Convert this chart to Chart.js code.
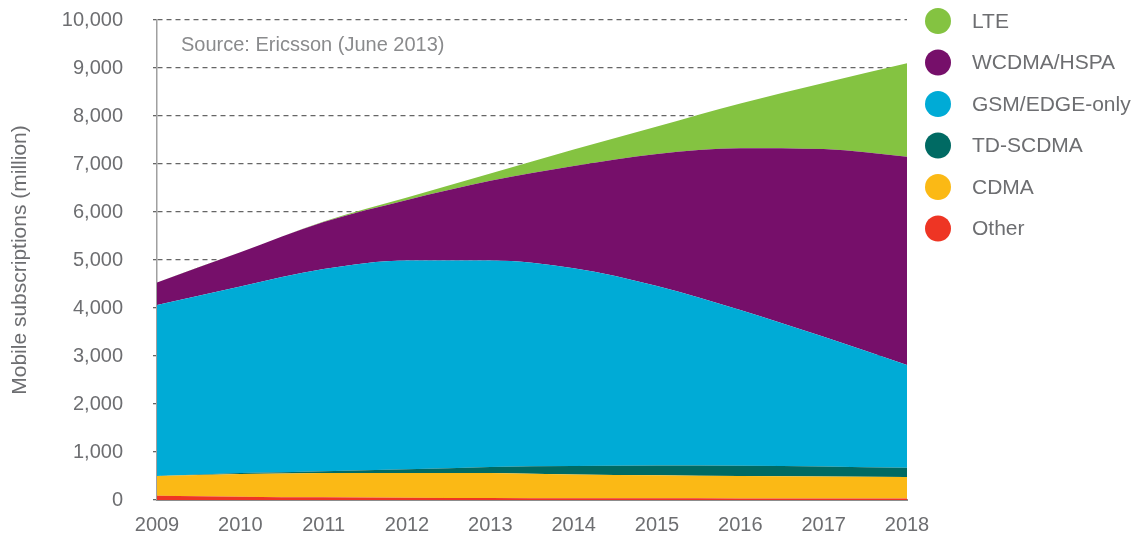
<!DOCTYPE html>
<html><head><meta charset="utf-8">
<script src="https://cdn.jsdelivr.net/npm/chart.js@4/dist/chart.umd.min.js"></script>
<style>html,body{margin:0;padding:0;background:#fff}#wrap{width:1147px;height:538px;position:relative}</style>
</head><body><div id="wrap"><canvas id="c" width="1147" height="538"></canvas></div>
<script>
const years = ['2009','2010','2011','2012','2013','2014','2015','2016','2017','2018'];
const other   = [90, 70, 55, 45, 40, 35, 35, 30, 30, 30];
const cdma    = [410, 470, 505, 520, 520, 495, 480, 470, 460, 450];
const tdscdma = [0, 20, 40, 75, 130, 180, 205, 215, 210, 190];
const gsm     = [3560, 3890, 4210, 4350, 4300, 4120, 3740, 3245, 2700, 2140];
const wcdma   = [470, 710, 980, 1260, 1660, 2130, 2750, 3370, 3910, 4340];
const lte     = [0, 0, 10, 50, 150, 340, 570, 930, 1380, 1950];
const yTicks  = [0,1000,2000,3000,4000,5000,6000,7000,8000,9000,10000];

const series = [
  {label:'Other', data:other, color:'#ee3524'},
  {label:'CDMA', data:cdma, color:'#fbb915'},
  {label:'TD-SCDMA', data:tdscdma, color:'#006a63'},
  {label:'GSM/EDGE-only', data:gsm, color:'#00abd6'},
  {label:'WCDMA/HSPA', data:wcdma, color:'#760f6a'},
  {label:'LTE', data:lte, color:'#84c341'}
];
const FONT = "'Liberation Sans', Arial, sans-serif";
const GRAY = '#6d6e71';

const legendPlugin = {
  id:'customLegend',
  afterDraw(chart){
    const ctx = chart.ctx;
    const ds = chart.data.datasets.slice().reverse();
    ctx.save();
    ds.forEach((d,i)=>{
      const cy = 21 + i*41.5;
      ctx.beginPath();
      ctx.arc(938, cy, 13, 0, Math.PI*2);
      ctx.fillStyle = d.backgroundColor;
      ctx.fill();
      ctx.fillStyle = GRAY;
      ctx.font = "21px " + FONT;
      ctx.textBaseline = 'middle';
      ctx.textAlign = 'left';
      ctx.fillText(d.label, 972, cy+1);
    });
    ctx.font = "20px " + FONT;
    ctx.fillStyle = '#8a8b8d';
    ctx.textBaseline = 'middle';
    ctx.fillText('Source: Ericsson (June 2013)', 181, 45);
    ctx.restore();
  }
};

new Chart(document.getElementById('c'), {
  type:'line',
  data:{
    labels: years,
    datasets: series.map((s,i)=>({
      label:s.label, data:s.data,
      backgroundColor:s.color, borderColor:s.color, borderWidth:0,
      pointRadius:0, fill: i===0 ? 'origin' : '-1',
      tension:0.3, cubicInterpolationMode:'monotone'
    }))
  },
  options:{
    responsive:false, animation:false,
    layout:{padding:{top:20, right:240, left:0, bottom:0}},
    plugins:{legend:{display:false}, tooltip:{enabled:false}},
    scales:{
      x:{
        stacked:true, offset:false,
        grid:{display:false, drawTicks:false},
        border:{display:true, color:'#8c8c8c', width:2},
        ticks:{color:GRAY, font:{family:FONT, size:20}, padding:13, maxRotation:0, autoSkip:false},
        afterFit(s){ s.height = 38; s.paddingLeft = 0; s.paddingRight = 0; }
      },
      y:{
        stacked:true, min:0, max:10000,
        afterBuildTicks(s){ s.ticks = yTicks.map(v=>({value:v})); },
        grid:{color:'#666', lineWidth:1.3, drawTicks:true, tickLength:4, tickColor:'#666', tickBorderDash:[]},
        border:{display:true, color:'#a0a0a0', width:1.5, dash:[5,4]},
        ticks:{color:GRAY, font:{family:FONT, size:20}, padding:30,
          callback:v=>Number(v).toLocaleString('en-US')},
        title:{display:true, text:'Mobile subscriptions (million)', color:GRAY, font:{family:FONT, size:21}, padding:{top:8,bottom:0}},
        afterFit(s){ s.width = 157; s.paddingTop = 0; s.paddingBottom = 0; }
      }
    }
  },
  plugins:[legendPlugin]
});
</script></body></html>
